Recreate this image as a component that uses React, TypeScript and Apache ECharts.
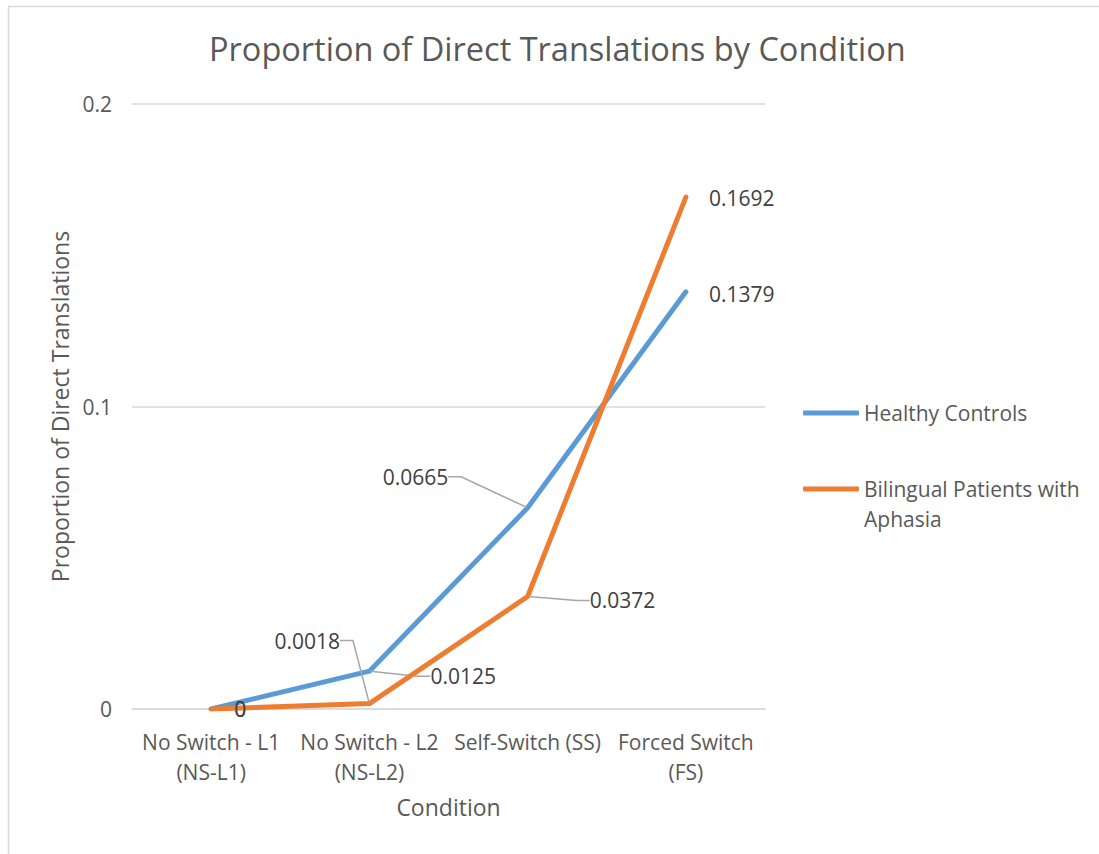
import React, { useEffect, useRef } from "react";
import * as echarts from "echarts";

const categories = [
  "No Switch - L1\n(NS-L1)",
  "No Switch - L2\n(NS-L2)",
  "Self-Switch (SS)",
  "Forced Switch\n(FS)",
];
const seriesNames = ["Healthy Controls", "Bilingual Patients with Aphasia"];
const healthyControls = [0, 0.0125, 0.0665, 0.1379];
const bilingualAphasia = [0, 0.0018, 0.0372, 0.1692];
const yTicks = { min: 0, max: 0.2, interval: 0.1 };

// label placement (pixel offsets from the default "right" position) and leader lines
const labelOffsets = [
  [[-9, 0], [29, 5], [-177, -31], [-9, 2]],
  [[-9, 0], [-127, -63], [30, 4], [-9, 1]],
];
const leaders = [
  [false, true, true, false],
  [false, true, true, false],
];

const FONT = "'Open Sans', 'Noto Sans', sans-serif";
const colors = ["#5b9bd5", "#ed7d31"];

export default function App() {
  const ref = useRef<HTMLDivElement>(null);
  useEffect(() => {
    if (!ref.current) return;
    const chart = echarts.init(ref.current, null, { renderer: "svg" });
    const allValues = [healthyControls, bilingualAphasia];
    chart.setOption({
      animation: false,
      backgroundColor: "#ffffff",
      textStyle: { fontFamily: FONT },
      title: {
        text: "Proportion of Direct Translations by Condition",
        left: 209,
        top: 32,
        padding: 0,
        textStyle: { fontFamily: FONT, fontSize: 32.5, fontWeight: "normal", color: "#595959" },
      },
      graphic: [
        {
          type: "rect",
          shape: { x: 8.5, y: 6.5, width: 1200, height: 1000 },
          style: { fill: "none", stroke: "#d9d9d9", lineWidth: 1.5 },
          silent: true,
        },
      ],
      legend: {
        orient: "vertical",
        left: 803,
        top: 398,
        itemWidth: 56,
        itemHeight: 5,
        itemGap: 16,
        icon: "roundRect",
        padding: 0,
        textStyle: { fontFamily: FONT, fontSize: 21, color: "#595959", lineHeight: 30 },
        data: [{ name: seriesNames[0] }, { name: seriesNames[1] }],
        formatter: (name: string) =>
          name === seriesNames[1] ? "\nBilingual Patients with\nAphasia" : name,
      },
      grid: { left: 132, right: 334, top: 104, bottom: 145, containLabel: false },
      xAxis: {
        type: "category",
        data: categories,
        boundaryGap: true,
        name: "Condition",
        nameLocation: "middle",
        nameGap: 86,
        nameTextStyle: { fontFamily: FONT, fontSize: 23, color: "#595959" },
        axisLine: { show: true, lineStyle: { color: "#d9d9d9", width: 1.5 } },
        axisTick: { show: false },
        axisLabel: {
          interval: 0,
          margin: 18,
          fontFamily: FONT,
          fontSize: 21,
          lineHeight: 30,
          color: "#595959",
        },
      },
      yAxis: {
        type: "value",
        min: yTicks.min,
        max: yTicks.max,
        interval: yTicks.interval,
        name: "Proportion of Direct Translations",
        nameLocation: "middle",
        nameGap: 60,
        nameRotate: 90,
        nameTextStyle: { fontFamily: FONT, fontSize: 23, color: "#595959" },
        axisLine: { show: false },
        axisTick: { show: false },
        splitLine: { lineStyle: { color: "#d9d9d9", width: 1.5 } },
        axisLabel: {
          margin: 20,
          fontFamily: FONT,
          fontSize: 21,
          color: "#595959",
          formatter: (v: number) => String(Math.round(v * 10) / 10),
        },
      },
      series: allValues.map((vals, s) => ({
        name: seriesNames[s],
        type: "line",
        data: vals.map((v, i) => ({
          value: v,
          labelLine: {
            show: leaders[s][i],
            length2: 13,
            lineStyle: { color: "#a6a6a6", width: 1.5 },
          },
        })),
        color: colors[s],
        symbol: "circle",
        symbolSize: 2,
        showSymbol: true,
        lineStyle: { width: 5, color: colors[s], cap: "round", join: "round" },
        itemStyle: { color: colors[s] },
        emphasis: { disabled: true },
        label: {
          show: true,
          position: "right",
          distance: 22,
          padding: [0, 9],
          fontFamily: FONT,
          fontSize: 21,
          color: "#404040",
          formatter: (p: any) => String(p.value),
        },
        labelLayout: (params: any) => {
          const off = labelOffsets[params.seriesIndex][params.dataIndex];
          return { dx: off[0], dy: off[1] };
        },
        z: s === 0 ? 2 : 3,
      })),
    });
    return () => chart.dispose();
  }, []);
  return (
    <div
      ref={ref}
      style={{ position: "absolute", left: 0, top: 0, width: 1099, height: 854 }}
    />
  );
}
